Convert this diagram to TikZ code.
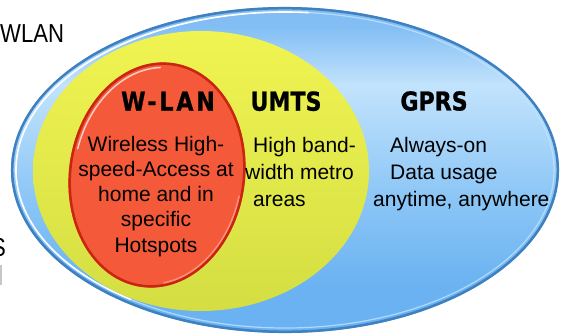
\documentclass[tikz,border=0pt]{standalone}
\usepackage{fontspec}
\setmainfont{Liberation Sans}
\newfontfamily\titlefont{DejaVu Sans}[FakeStretch=0.85,FakeBold=0.9]
\newfontfamily\wlanfont{DejaVu Sans}[FakeStretch=0.85,LetterSpace=11,FakeBold=0.9]
\newfontfamily\sidefont{Liberation Sans}[FakeStretch=0.85]
\definecolor{blueRim}{HTML}{3E80C0}
\definecolor{blueBot}{HTML}{6AB2F2}
\definecolor{blueMid}{HTML}{8CC6F6}
\definecolor{blueHi}{HTML}{C2E3FC}
\definecolor{blueTop}{HTML}{82BEF4}
\definecolor{yelTop}{HTML}{F0F452}
\definecolor{yelBot}{HTML}{D4DE42}
\definecolor{redFill}{HTML}{F4593A}
\definecolor{redRim}{HTML}{C8260E}
\definecolor{redPink}{HTML}{F8A090}
\pgfdeclareverticalshading{blueshade}{100bp}{color(0bp)=(blueBot); color(25bp)=(blueBot); color(32bp)=(blueBot); color(46bp)=(blueMid); color(63bp)=(blueHi); color(72bp)=(blueTop); color(75bp)=(blueTop); color(100bp)=(blueTop)}
\begin{document}
\begin{tikzpicture}[x=1pt,y=-1pt,
  titletext/.style={font=\titlefont\bfseries\fontsize{26}{26}\selectfont, inner sep=0pt, anchor=base},
  wlantext/.style={font=\wlanfont\bfseries\fontsize{26}{26}\selectfont, inner sep=0pt, anchor=base},
  bodyc/.style={font=\fontsize{21}{25}\selectfont, inner sep=0pt, anchor=base},
  bodyl/.style={font=\fontsize{21}{25}\selectfont, inner sep=0pt, anchor=base west},
  sidetext/.style={font=\sidefont\fontsize{26}{26}\selectfont, inner sep=0pt}]
\useasboundingbox (0,0) rectangle (561,336);
% blue GPRS ellipse
\coordinate (bc) at (285,170);
\shade[shading=blueshade] (bc) ellipse [x radius=274, y radius=163];
\draw[blueRim, line width=2.5pt] (bc) ellipse [x radius=272.8, y radius=161.8];
\draw[blueHi, line width=1.2pt, opacity=.8] (bc) ellipse [x radius=269, y radius=158];
\draw[white, line width=1.6pt, line cap=round] (bc) ++(125:269 and 158) arc[start angle=125, end angle=275, x radius=269, y radius=158];
% yellow UMTS ellipse
\coordinate (yc) at (201,171);
\shade[top color=yelTop, bottom color=yelBot] (yc) ellipse [x radius=168, y radius=140];
% red W-LAN ellipse
\begin{scope}[shift={(157,175)}, rotate=-8]
  \coordinate (rc) at (0,0);
  \fill[redFill] (rc) ellipse [x radius=88, y radius=113];
  \draw[redRim, line width=2.5pt] (rc) ellipse [x radius=86.8, y radius=111.8];
  \draw[white, opacity=.7, line width=1.5pt, line cap=round] (rc) ++(188:83 and 108) arc[start angle=188, end angle=262, x radius=83, y radius=108];
  \draw[redPink, opacity=.8, line width=1.5pt, line cap=round] (rc) ++(5:84.5 and 109.5) arc[start angle=5, end angle=75, x radius=84.5, y radius=109.5];
\end{scope}
% titles
\node[wlantext] (twlan) at (168,110.7) {W-LAN};
\node[titletext] (tumts) at (286,110.7) {UMTS};
\node[titletext] (tgprs) at (434,110.5) {GPRS};
% W-LAN body
\node[bodyc] (w1) at (156,152) {Wireless High-};
\node[bodyc] (w2) at (156,177) {speed-Access at};
\node[bodyc] (w3) at (156,202) {home and in};
\node[bodyc] (w4) at (156,227) {specific};
\node[bodyc] (w5) at (156,252) {Hotspots};
% UMTS body
\node[bodyl] (u1) at (253,152.7) {High band-};
\node[bodyl] (u2) at (245,180) {width metro};
\node[bodyl] (u3) at (253,206.7) {areas};
% GPRS body
\node[bodyl] (g1) at (390,152.7) {Always-on};
\node[bodyl] (g2) at (390,180) {Data usage};
\node[bodyl] (g3) at (373,206.7) {anytime, anywhere};
% cropped side texts
\node[sidetext, anchor=base west] (wlan) at (0,43) {WLAN};
\node[sidetext, anchor=base east] (side) at (6,256) {S};
\fill[black!22] (0,265) rectangle (1.5,285);
\end{tikzpicture}
\end{document}
